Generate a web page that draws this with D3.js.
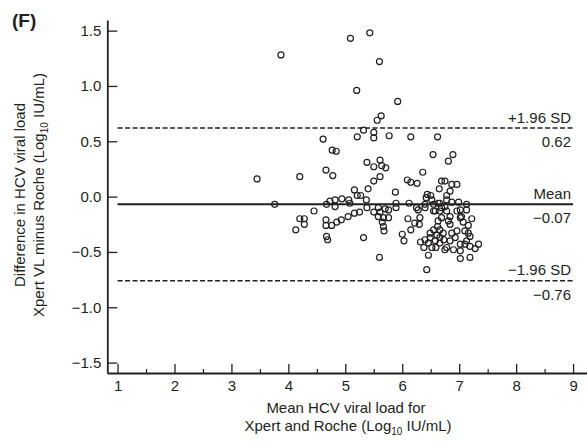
<!DOCTYPE html>
<html>
<head>
<meta charset="utf-8">
<script src="https://cdn.jsdelivr.net/npm/d3@7/dist/d3.min.js"></script>
<style>
  html, body { margin: 0; padding: 0; background: #fff; }
  svg { display: block; }
  text { font-family: "Liberation Sans", Arial, sans-serif; fill: #231f20; }
</style>
</head>
<body>
<script>
// ---- data ----
const meanLoad = [
  3.87,5.09,5.43,5.60,5.20,5.92,5.63,5.56,5.32,5.50,5.21,5.50,5.77,6.15,6.62,4.61,4.77,4.84,6.54,6.89,
  6.81,5.38,5.50,5.61,5.64,5.71,6.36,3.45,4.20,4.66,4.78,5.61,5.50,6.09,6.15,6.26,6.69,6.75,6.87,6.96,
  6.65,5.40,5.16,5.88,5.21,5.27,6.44,6.50,6.42,6.52,6.78,6.78,6.84,4.82,4.94,5.06,5.37,5.08,3.76,4.67,
  4.73,4.82,5.38,5.50,5.58,5.61,5.70,5.76,5.89,5.89,6.12,6.25,6.28,4.45,4.20,4.28,4.28,4.13,4.66,4.66,
  4.76,4.85,4.93,5.05,5.16,5.25,5.58,5.67,5.76,5.65,5.67,5.68,4.67,4.69,5.32,5.60,6.00,6.03,6.10,6.22,
  6.15,6.30,6.32,6.31,6.40,6.40,6.55,6.66,6.69,6.87,6.99,7.13,7.02,7.13,7.22,7.04,7.07,7.16,7.16,7.19,
  6.46,6.43,7.02,7.19,7.34,7.28,7.19,6.49,6.46,6.52,6.59,6.58,6.49,6.55,6.62,6.66,6.72,6.69,6.63,6.66,
  6.78,6.84,6.84,6.87,6.96,7.02,6.96,7.13,7.10,7.02,6.93,6.84,6.78,6.90,7.02,6.66,6.66,6.75,6.73,6.61,
  6.40,6.38,6.55,6.58,6.75,6.81,7.10,6.63
];
const difference = [
  1.28,1.43,1.48,1.22,0.96,0.86,0.73,0.69,0.60,0.58,0.54,0.53,0.55,0.54,0.54,0.52,0.42,0.41,0.38,0.38,
  0.32,0.31,0.27,0.33,0.28,0.26,0.22,0.16,0.18,0.24,0.19,0.18,0.14,0.15,0.13,0.12,0.14,0.14,0.11,0.11,
  0.07,0.07,0.06,0.04,0.01,0.01,0.02,0.01,-0.01,-0.03,0.01,-0.03,0.05,-0.03,-0.02,-0.03,-0.03,-0.06,-0.07,-0.07,
  -0.04,-0.09,-0.10,-0.14,-0.10,-0.14,-0.11,-0.12,-0.06,-0.10,-0.06,-0.10,-0.12,-0.13,-0.20,-0.20,-0.25,-0.30,-0.21,-0.26,
  -0.26,-0.23,-0.21,-0.18,-0.15,-0.14,-0.18,-0.19,-0.19,-0.23,-0.27,-0.31,-0.36,-0.39,-0.37,-0.55,-0.34,-0.40,-0.20,-0.24,
  -0.30,-0.25,-0.41,-0.19,-0.07,-0.10,-0.13,-0.06,-0.10,-0.05,-0.05,-0.07,-0.12,-0.12,-0.20,-0.18,-0.23,-0.26,-0.33,-0.36,
  -0.53,-0.66,-0.56,-0.55,-0.43,-0.47,-0.45,-0.37,-0.42,-0.46,-0.46,-0.40,-0.33,-0.30,-0.27,-0.30,-0.33,-0.19,-0.22,-0.13,
  -0.13,-0.18,-0.25,-0.33,-0.31,-0.19,-0.13,-0.40,-0.43,-0.43,-0.37,-0.40,-0.46,-0.48,-0.49,-0.37,-0.42,-0.48,-0.39,-0.35,
  -0.39,-0.46,-0.07,-0.13,-0.09,-0.22,-0.31,-0.06
];
const meanDiff = -0.07;
const upperLoA = 0.62;
const lowerLoA = -0.76;
const xTicks = [1,2,3,4,5,6,7,8,9];
const xMinorTicks = [1.5,2.5,3.5,4.5,5.5,6.5,7.5,8.5];
const yTicks = [1.5,1.0,0.5,0.0,-0.5,-1.0,-1.5];
const refLabels = [
  {top: "+1.96 SD", bottom: "0.62", value: upperLoA, dashed: true},
  {top: "Mean", bottom: "\u22120.07", value: meanDiff, dashed: false},
  {top: "\u22121.96 SD", bottom: "\u22120.76", value: lowerLoA, dashed: true}
];

// ---- drawing ----
const W = 587, H = 445;
const svg = d3.select("body").append("svg").attr("width", W).attr("height", H);

const x = d3.scaleLinear().domain([0.82, 9.25]).range([107.3, 587.3]);
const y = d3.scaleLinear().domain([-1.594, 1.596]).range([373, 20]);
const ink = "#231f20";
const fmtY = v => (v < 0 ? "\u2212" : "") + Math.abs(v).toFixed(1);

// x axis (major inward ticks)
const gx = svg.append("g").attr("transform", `translate(0,${y.range()[0]})`)
  .call(d3.axisBottom(x).tickValues(xTicks).tickFormat(d3.format("d")).tickSizeInner(-9).tickSizeOuter(0).tickPadding(7));
gx.select(".domain").attr("stroke", ink).attr("stroke-width", 1.8);
gx.selectAll(".tick line").attr("stroke", ink).attr("stroke-width", 1.3);
gx.selectAll(".tick text").attr("font-size", 15).attr("dy", "0.71em").attr("y", 7.5)
  .style("font-family", "'Liberation Sans', Arial, sans-serif").attr("fill", ink);
// minor x ticks
const gxm = svg.append("g").attr("transform", `translate(0,${y.range()[0]})`)
  .call(d3.axisBottom(x).tickValues(xMinorTicks).tickFormat("").tickSizeInner(-4).tickSizeOuter(0));
gxm.select(".domain").remove();
gxm.selectAll(".tick line").attr("stroke", ink).attr("stroke-width", 1.2);

// y axis (inward ticks)
const gy = svg.append("g").attr("transform", `translate(${x.range()[0]},0)`)
  .call(d3.axisLeft(y).tickValues(yTicks).tickFormat(fmtY).tickSizeInner(-10).tickSizeOuter(0).tickPadding(5));
gy.select(".domain").attr("stroke", ink).attr("stroke-width", 1.8);
gy.selectAll(".tick line").attr("stroke", ink).attr("stroke-width", 1.3);
gy.selectAll(".tick text").attr("font-size", 15).attr("x", -6)
  .style("font-family", "'Liberation Sans', Arial, sans-serif").attr("fill", ink);

// reference lines
refLabels.forEach(r => {
  svg.append("line")
    .attr("x1", x(1)).attr("x2", x(9))
    .attr("y1", y(r.value)).attr("y2", y(r.value))
    .attr("stroke", ink)
    .attr("stroke-width", r.dashed ? 1.6 : 2)
    .attr("stroke-dasharray", r.dashed ? "5,2.5" : null);
  svg.append("text").attr("x", x(9) - 2).attr("y", y(r.value) - 5.5)
    .attr("text-anchor", "end").attr("font-size", 15).text(r.top);
  svg.append("text").attr("x", x(9) - 2).attr("y", y(r.value) + 19)
    .attr("text-anchor", "end").attr("font-size", 15).text(r.bottom);
});

// points
svg.append("g").selectAll("circle")
  .data(meanLoad.map((m, i) => [m, difference[i]]))
  .join("circle")
  .attr("cx", d => x(d[0]))
  .attr("cy", d => y(d[1]))
  .attr("r", 3)
  .attr("fill", "none")
  .attr("stroke", ink)
  .attr("stroke-width", 1.2);

// panel label
svg.append("text").attr("x", 12).attr("y", 27).attr("font-size", 19).attr("font-weight", "bold").text("(F)");

// x axis title
const xt = svg.append("g").attr("text-anchor", "middle");
xt.append("text").attr("x", 346).attr("y", 413).attr("font-size", 15).text("Mean HCV viral load for");
const xt2 = xt.append("text").attr("x", 348).attr("y", 430.5).attr("font-size", 15);
xt2.append("tspan").text("Xpert and Roche (Log");
xt2.append("tspan").attr("font-size", 10).attr("dy", 4).text("10");
xt2.append("tspan").attr("dy", -4).text(" IU/mL)");

// y axis title
const yt = svg.append("g").attr("transform", "translate(0,195) rotate(-90)").attr("text-anchor", "middle");
yt.append("text").attr("x", 0).attr("y", 25).attr("font-size", 15).text("Difference in HCV viral load");
const yt2 = yt.append("text").attr("x", 0).attr("y", 43.5).attr("font-size", 15);
yt2.append("tspan").text("Xpert VL minus Roche (Log");
yt2.append("tspan").attr("font-size", 10).attr("dy", 4).text("10");
yt2.append("tspan").attr("dy", -4).text(" IU/mL)");
</script>
</body>
</html>
